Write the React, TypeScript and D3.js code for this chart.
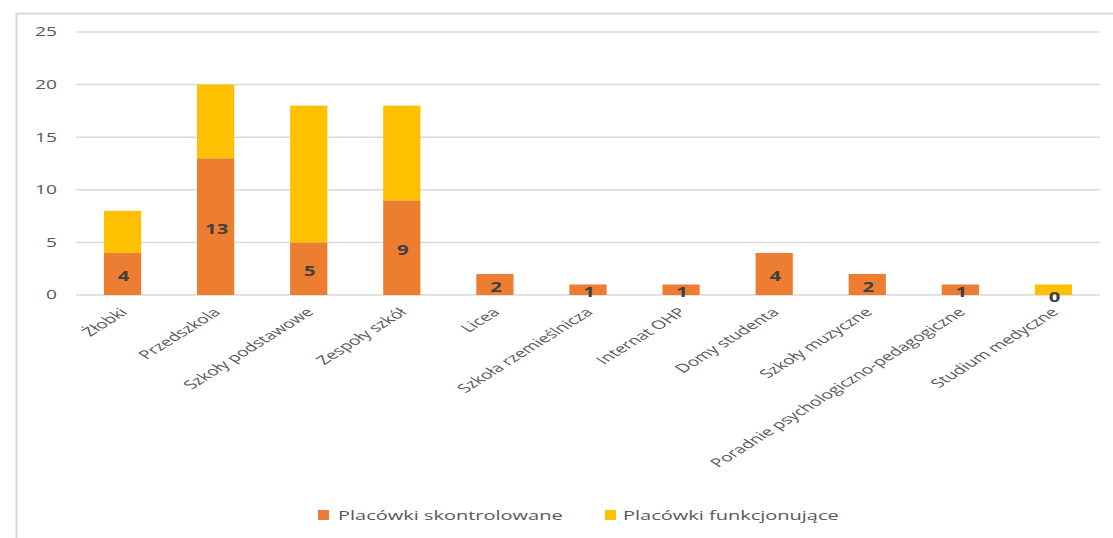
import React from "react";
import * as d3 from "d3";

const categories = [
  "Żłobki",
  "Przedszkola",
  "Szkoły podstawowe",
  "Zespoły szkół",
  "Licea",
  "Szkoła rzemieślnicza",
  "Internat OHP",
  "Domy studenta",
  "Szkoły muzyczne",
  "Poradnie psychologiczno-pedagogiczne",
  "Studium medyczne",
];
const controlled = [4, 13, 5, 9, 2, 1, 1, 4, 2, 1, 0];
const functioningExtra = [4, 7, 13, 9, 0, 0, 0, 0, 0, 0, 1];
const yTicks = [0, 5, 10, 15, 20, 25];
const seriesNames = ["Placówki skontrolowane", "Placówki funkcjonujące"];
const colors = ["#ED7D31", "#FFC000"];

const W = 1113;
const H = 538;
const SX = 1.6;
const FONT = "'Open Sans', 'Noto Sans', sans-serif";

export default function App() {
  const x = d3.scaleBand<string>().domain(categories).range([76, 1100]).paddingInner(0.6).paddingOuter(0.3);
  const y = d3.scaleLinear().domain([0, 25]).range([295, 32]);

  const rows = categories.map((c, i) => ({ cat: c, a: controlled[i], b: functioningExtra[i] }));
  const stack = d3.stack<any>().keys(["a", "b"])(rows);

  return (
    <div style={{ position: "fixed", left: 0, top: 0 }}>
      <svg width={W} height={H} style={{ display: "block", background: "#fff" }}>
        {/* chart border */}
        <path d={`M16.5,${H} V13.5 H${W}`} fill="none" stroke="#d9d9d9" strokeWidth={2} />
        {/* gridlines */}
        {yTicks.map((t) => (
          <line key={t} x1={76} x2={1100} y1={y(t)} y2={y(t)} stroke="#d9d9d9" strokeWidth={1.5} />
        ))}
        {/* y labels */}
        {yTicks.map((t) => (
          <text
            key={"yl" + t}
            transform={`translate(57,${y(t)}) scale(${SX},1)`}
            textAnchor="end"
            dominantBaseline="central"
            fontFamily={FONT}
            fontSize={12}
            fill="#595959"
          >
            {t}
          </text>
        ))}
        {/* bars */}
        {stack.map((s, si) => (
          <g key={si} fill={colors[si]}>
            {s.map((d, i) =>
              d[1] - d[0] > 0 ? (
                <rect
                  key={i}
                  x={x(categories[i])}
                  width={x.bandwidth()}
                  y={y(d[1])}
                  height={y(d[0]) - y(d[1])}
                />
              ) : null
            )}
          </g>
        ))}
        {/* data labels for controlled series */}
        {stack[0].map((d, i) => (
          <text
            key={"dl" + i}
            transform={`translate(${(x(categories[i]) as number) + x.bandwidth() / 2 + 1},${(y(d[0]) + y(d[1])) / 2 + 2}) scale(1.5,1)`}
            textAnchor="middle"
            dominantBaseline="central"
            fontFamily={FONT}
            fontWeight="bold"
            fontSize={13.5}
            fill="#404040"
          >
            {controlled[i]}
          </text>
        ))}
        {/* x labels */}
        {categories.map((c) => (
          <text
            key={"xl" + c}
            transform={`translate(${(x(c) as number) + x.bandwidth() / 2 + 6},${313}) scale(${SX},1) rotate(-45)`}
            textAnchor="end"
            fontFamily={FONT}
            fontSize={12}
            fill="#595959"
          >
            {c}
          </text>
        ))}
        {/* legend */}
        <rect x={318} y={510} width={11} height={10} fill={colors[0]} />
        <text transform={`translate(338,515) scale(${SX},1)`} dominantBaseline="central" fontFamily={FONT} fontSize={12.5} fill="#595959">
          {seriesNames[0]}
        </text>
        <rect x={605} y={510} width={11} height={10} fill={colors[1]} />
        <text transform={`translate(623,515) scale(${SX},1)`} dominantBaseline="central" fontFamily={FONT} fontSize={12.5} fill="#595959">
          {seriesNames[1]}
        </text>
      </svg>
    </div>
  );
}
